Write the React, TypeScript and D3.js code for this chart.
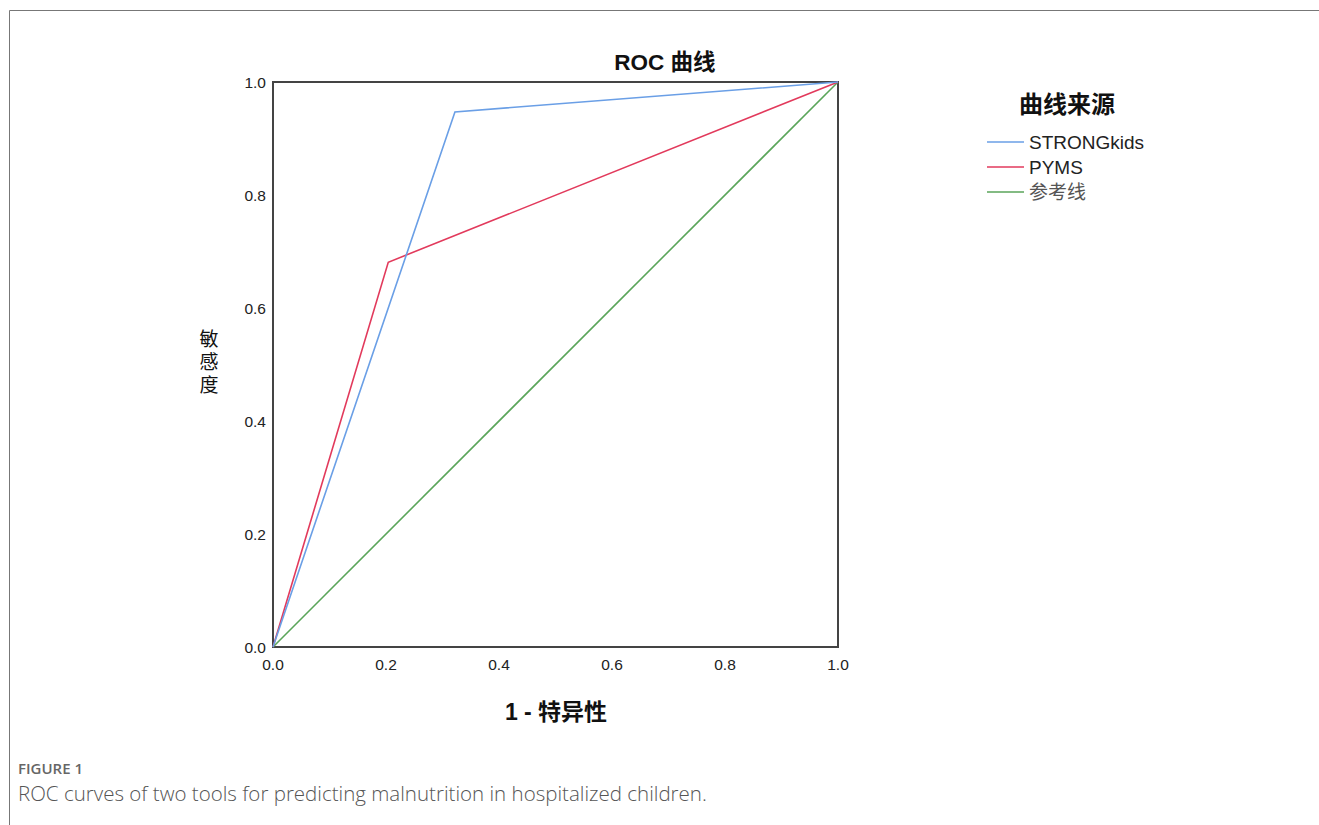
import React, { useEffect, useRef } from "react";
import * as d3 from "d3";

const seriesNames = ["STRONGkids", "PYMS", "参考线"];
const seriesColors = ["#6a9fe6", "#e23a5c", "#5aa55a"];
const strongFpr = [0, 0.322, 1];
const strongTpr = [0, 0.947, 1];
const pymsFpr = [0, 0.204, 1];
const pymsTpr = [0, 0.681, 1];
const refFpr = [0, 1];
const refTpr = [0, 1];
const ticks = [0, 0.2, 0.4, 0.6, 0.8, 1.0];

const W = 1319;
const H = 825;

function App() {
  const el = useRef<SVGSVGElement>(null);

  useEffect(() => {
    const svg = d3.select(el.current);
    svg.selectAll("*").remove();

    // outer frame
    svg.append("path")
      .attr("d", `M9.5,${H} V10.5 H${W}`)
      .attr("fill", "none")
      .attr("stroke", "#777")
      .attr("stroke-width", 1);

    const x = d3.scaleLinear().domain([0, 1]).range([273, 838]);
    const y = d3.scaleLinear().domain([0, 1]).range([647, 82]);

    const g = svg.append("g");

    g.append("rect")
      .attr("x", x(0)).attr("y", y(1))
      .attr("width", x(1) - x(0)).attr("height", y(0) - y(1))
      .attr("fill", "none")
      .attr("stroke", "#444")
      .attr("stroke-width", 2);

    const font = "Arial, 'Liberation Sans', sans-serif";

    g.selectAll(".yt").data(ticks).join("text")
      .attr("x", 266).attr("y", (d) => y(d) + 6)
      .attr("text-anchor", "end")
      .attr("font-family", font).attr("font-size", 15.5).attr("fill", "#222")
      .text((d) => d.toFixed(1));

    g.selectAll(".xt").data(ticks).join("text")
      .attr("x", (d) => x(d)).attr("y", 670)
      .attr("text-anchor", "middle")
      .attr("font-family", font).attr("font-size", 15.5).attr("fill", "#222")
      .text((d) => d.toFixed(1));

    const line = d3.line<[number, number]>().x((d) => x(d[0])).y((d) => y(d[1]));
    const series: [number[], number[]][] = [
      [strongFpr, strongTpr],
      [pymsFpr, pymsTpr],
      [refFpr, refTpr],
    ];
    [2, 1, 0].forEach((i) => {
      const [fx, ty] = series[i];
      g.append("path")
        .attr("d", line(fx.map((v, k) => [v, ty[k]] as [number, number])))
        .attr("fill", "none")
        .attr("stroke", seriesColors[i])
        .attr("stroke-width", 1.6);
    });

    // title and axis labels
    svg.append("text")
      .attr("x", 665).attr("y", 70)
      .attr("text-anchor", "middle")
      .attr("font-family", "Arial, 'Noto Sans CJK SC', sans-serif")
      .attr("font-weight", "bold").attr("font-size", 22.5).attr("fill", "#111")
      .text("ROC 曲线");

    svg.append("text")
      .attr("x", 556).attr("y", 720)
      .attr("text-anchor", "middle")
      .attr("font-family", "Arial, 'Noto Sans CJK SC', sans-serif")
      .attr("font-weight", "bold").attr("font-size", 23).attr("fill", "#111")
      .text("1 - 特异性");

    // vertical y label
    svg.append("text")
      .attr("x", 209).attr("y", 364)
      .attr("text-anchor", "middle")
      .attr("writing-mode", "vertical-rl")
      .attr("letter-spacing", 4)
      .attr("font-family", "'Noto Sans CJK SC', serif")
      .attr("font-size", 19).attr("fill", "#111")
      .text("敏感度");

    // legend
    svg.append("text")
      .attr("x", 1067).attr("y", 113)
      .attr("text-anchor", "middle")
      .attr("font-family", "'Noto Sans CJK SC', serif")
      .attr("font-weight", "bold").attr("font-size", 24).attr("fill", "#111")
      .text("曲线来源");

    seriesNames.forEach((name, i) => {
      const ly = 142 + i * 25;
      svg.append("line")
        .attr("x1", 987).attr("x2", 1024).attr("y1", ly).attr("y2", ly)
        .attr("stroke", seriesColors[i]).attr("stroke-width", 1.6);
      svg.append("text")
        .attr("x", 1029).attr("y", ly + 6.5)
        .attr("font-family", "Arial, 'Noto Sans CJK SC', sans-serif")
        .attr("font-size", 19).attr("fill", i === 2 ? "#555" : "#222")
        .text(name);
    });

    // caption
    svg.append("text")
      .attr("x", 18).attr("y", 774)
      .attr("font-family", "'Open Sans', sans-serif")
      .attr("font-weight", 600).attr("font-size", 15).attr("fill", "#666")
      .text("FIGURE 1");
    svg.append("text")
      .attr("x", 18).attr("y", 801)
      .attr("font-family", "'Open Sans', sans-serif")
      .attr("font-weight", 300).attr("font-size", 20.5).attr("fill", "#555")
      .text("ROC curves of two tools for predicting malnutrition in hospitalized children.");
  }, []);

  return (
    <svg
      ref={el}
      width={W}
      height={H}
      style={{ position: "absolute", left: 0, top: 0, background: "#fff" }}
    />
  );
}

export default App;
